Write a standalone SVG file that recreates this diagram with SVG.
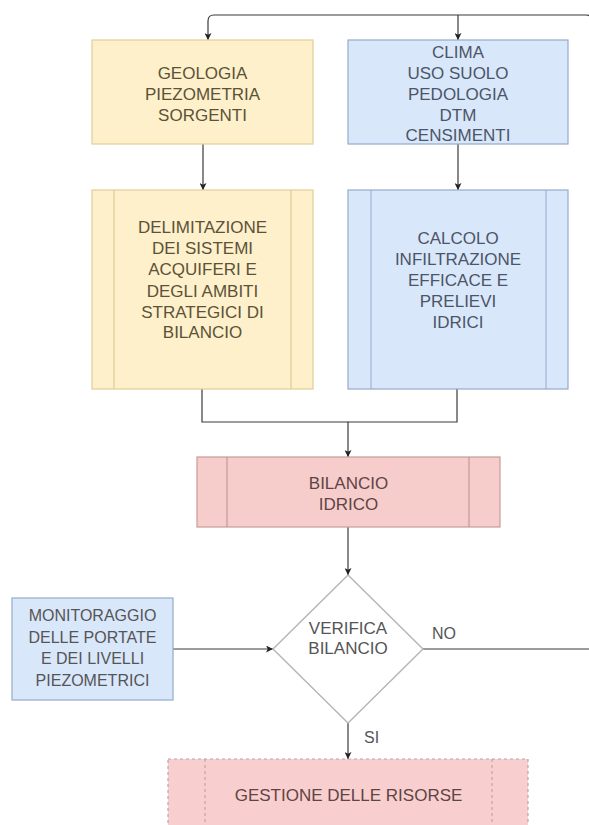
<svg xmlns="http://www.w3.org/2000/svg" width="589" height="825" viewBox="0 0 589 825">
<style>
  text { font-family: "Liberation Sans", Arial, sans-serif; font-size: 17px; text-anchor: middle; }
  .y { fill: #fdf0cb; stroke: #e2cf96; stroke-width: 1.2; }
  .yi { stroke: #d9c58c; stroke-width: 1; fill: none; }
  .b { fill: #d9e7fb; stroke: #94abcc; stroke-width: 1.2; }
  .bi { stroke: #94abcc; stroke-width: 1; fill: none; }
  .r { fill: #f7cdcc; stroke: #c79b9a; stroke-width: 1.2; }
  .ri { stroke: #b98e8d; stroke-width: 1; fill: none; }
  .rd { fill: #f8cfce; stroke: #b8a3b4; stroke-width: 1.2; stroke-dasharray: 3 3; }
  .rdi { stroke: #b89a9f; stroke-width: 1; stroke-dasharray: 3 3; fill: none; }
  .d { fill: #ffffff; stroke: #b5b5b5; stroke-width: 1.4; }
  .ty { fill: #5c5238; }
  .tb { fill: #4c5566; }
  .tr { fill: #5e4444; }
  .tg { fill: #555555; }
  .edge { fill: none; stroke: #3a3a3a; stroke-width: 1.2; }
  .lbl { font-size: 16px; text-anchor: start; fill: #555555; }
</style>
<defs>
  <marker id="arr" viewBox="0 0 10 10" refX="10" refY="5" markerWidth="7" markerHeight="7" orient="auto" markerUnits="userSpaceOnUse">
    <path d="M0 0 L10 5 L0 10 L2.5 5 Z" fill="#222222"/>
  </marker>
</defs>
<rect width="589" height="825" fill="#ffffff"/>

<g id="connectors">
  <path class="edge" d="M423 649 H592 V21 Q592 15 586 15 H214 Q208 15 208 21 V40" marker-end="url(#arr)"/>
  <path class="edge" d="M458 15 V40" marker-end="url(#arr)"/>
  <path class="edge" d="M203 144 V190" marker-end="url(#arr)"/>
  <path class="edge" d="M458 144 V190" marker-end="url(#arr)"/>
  <path class="edge" d="M202 389 V422 H348 V457" marker-end="url(#arr)"/>
  <path class="edge" d="M457 389 V422 H348"/>
  <path class="edge" d="M348 527 V575" marker-end="url(#arr)"/>
  <path class="edge" d="M173 649 H273" marker-end="url(#arr)"/>
  <path class="edge" d="M348 723 V759" marker-end="url(#arr)"/>
  <text class="lbl" x="432" y="639">NO</text>
  <text class="lbl" x="364" y="743">SI</text>
</g>

<g id="geologia">
  <rect class="y" x="92" y="40" width="221" height="104"/>
  <text class="ty" x="202.5" y="79">GEOLOGIA</text>
  <text class="ty" x="202.5" y="100">PIEZOMETRIA</text>
  <text class="ty" x="202.5" y="121">SORGENTI</text>
</g>

<g id="clima">
  <rect class="b" x="348" y="40" width="220" height="104"/>
  <text class="tb" x="458" y="58">CLIMA</text>
  <text class="tb" x="458" y="79">USO SUOLO</text>
  <text class="tb" x="458" y="100">PEDOLOGIA</text>
  <text class="tb" x="458" y="121">DTM</text>
  <text class="tb" x="458" y="141">CENSIMENTI</text>
</g>

<g id="delimitazione">
  <rect class="y" x="92" y="190" width="221" height="199"/>
  <line class="yi" x1="114" y1="190" x2="114" y2="389"/>
  <line class="yi" x1="291" y1="190" x2="291" y2="389"/>
  <text class="ty" x="202.5" y="233">DELIMITAZIONE</text>
  <text class="ty" x="202.5" y="254">DEI SISTEMI</text>
  <text class="ty" x="202.5" y="275">ACQUIFERI E</text>
  <text class="ty" x="202.5" y="297">DEGLI AMBITI</text>
  <text class="ty" x="202.5" y="318">STRATEGICI DI</text>
  <text class="ty" x="202.5" y="338">BILANCIO</text>
</g>

<g id="calcolo">
  <rect class="b" x="348" y="190" width="220" height="199"/>
  <line class="bi" x1="371" y1="190" x2="371" y2="389"/>
  <line class="bi" x1="546" y1="190" x2="546" y2="389"/>
  <text class="tb" x="458" y="244">CALCOLO</text>
  <text class="tb" x="458" y="265">INFILTRAZIONE</text>
  <text class="tb" x="458" y="286">EFFICACE E</text>
  <text class="tb" x="458" y="307">PRELIEVI</text>
  <text class="tb" x="458" y="328">IDRICI</text>
</g>

<g id="bilancio">
  <rect class="r" x="197" y="457" width="303" height="70"/>
  <line class="ri" x1="227" y1="457" x2="227" y2="527"/>
  <line class="ri" x1="469" y1="457" x2="469" y2="527"/>
  <text class="tr" x="348.5" y="489">BILANCIO</text>
  <text class="tr" x="348.5" y="510">IDRICO</text>
</g>

<g id="monitoraggio">
  <rect class="b" x="12" y="598" width="161" height="102"/>
  <text class="tg" style="font-size:16px" x="92.5" y="621">MONITORAGGIO</text>
  <text class="tg" style="font-size:16px" x="92.5" y="643">DELLE PORTATE</text>
  <text class="tg" style="font-size:16px" x="92.5" y="664">E DEI LIVELLI</text>
  <text class="tg" style="font-size:16px" x="92.5" y="686">PIEZOMETRICI</text>
</g>

<g id="verifica">
  <path class="d" d="M348 575 L423 649 L348 723 L273 649 Z"/>
  <text class="tg" x="348" y="634">VERIFICA</text>
  <text class="tg" x="348" y="654">BILANCIO</text>
</g>

<g id="gestione">
  <rect class="rd" x="168" y="759" width="360" height="110"/>
  <line class="rdi" x1="205" y1="759" x2="205" y2="869"/>
  <line class="rdi" x1="492" y1="759" x2="492" y2="869"/>
  <text class="tr" x="348.5" y="801">GESTIONE DELLE RISORSE</text>
</g>
</svg>
